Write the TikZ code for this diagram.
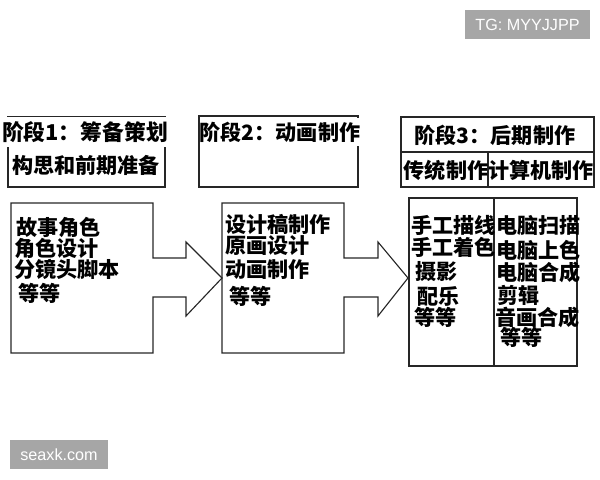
\documentclass[tikz,border=0pt]{standalone}
\usepackage{fontspec}
\setsansfont{Liberation Sans}
\newfontfamily\cjk{Noto Sans CJK SC}
\usetikzlibrary{positioning}

\tikzset{
  line/.style={draw=black!85, line width=0.8pt},
  head/.style={font=\cjk\bfseries\fontsize{15}{17}\selectfont, inner xsep=0pt, inner ysep=3pt},
  item/.style={font=\cjk\bfseries\fontsize{15}{17}\selectfont, inner sep=0pt, anchor=west},
  wbox/.style={fill=black!35, text=white, font=\sffamily\fontsize{11.5}{13}\selectfont, minimum height=0.72cm, inner sep=0pt}
}

\begin{document}
\begin{tikzpicture}[x=0.025cm, y=-0.025cm]
\useasboundingbox (0,0) rectangle (600,480);

% stage headers
\draw[line] (8,117) rectangle (165,187);
\node[head, fill=white, font=\cjk\bfseries\fontsize{15.5}{17}\selectfont] (H1) at (85,132) {阶段1：筹备策划};
\node[head] (P1) at (86,165) {构思和前期准备};

\draw[line] (199,116) rectangle (358,187);
\node[head, fill=white] (H2) at (280,132) {阶段2：动画制作};

\draw[line] (401,117) rectangle (594,187);
\draw[line] (401,152) -- (594,152);
\draw[line] (488,152) -- (488,187);
\node[head] (H3) at (495,135) {阶段3：后期制作};
\node[head] (T3) at (446,170) {传统制作};
\node[head] (C3) at (541,170) {计算机制作};

% work boxes with arrows
\draw[line] (11,203) -- (153,203) -- (153,258) -- (186,258) -- (186,242) -- (222,278)
  -- (186,316) -- (186,297) -- (153,297) -- (153,353) -- (11,353) -- cycle;
\draw[line] (222,203) -- (344,203) -- (344,258) -- (378,258) -- (378,242) -- (408,278)
  -- (378,316) -- (378,297) -- (344,297) -- (344,353) -- (222,353) -- cycle;
\draw[line] (409,198) rectangle (577,366);
\draw[line] (494,198) -- (494,366);

% stage 1 tasks
\node[item] (A1) at (16,227) {故事角色};
\node[item] (A2) at (14,248) {角色设计};
\node[item] (A3) at (14,269) {分镜头脚本};
\node[item] (A4) at (18,293) {等等};

% stage 2 tasks
\node[item] (B1) at (225,224) {设计稿制作};
\node[item] (B2) at (225,246) {原画设计};
\node[item] (B3) at (225,270) {动画制作};
\node[item] (B4) at (229,296) {等等};

% stage 3 tasks
\node[item] (L1) at (411,225) {手工描线};
\node[item] (L2) at (411,247) {手工着色};
\node[item] (L3) at (415,272) {摄影};
\node[item] (L4) at (417,296) {配乐};
\node[item] (L5) at (414,317) {等等};

\node[item] (R1) at (496,225) {电脑扫描};
\node[item] (R2) at (496,250) {电脑上色};
\node[item] (R3) at (496,272) {电脑合成};
\node[item] (R4) at (497,295) {剪辑};
\node[item] (R5) at (495,317) {音画合成};
\node[item] (R6) at (500,337) {等等};

% labels in grey boxes
\node[wbox, minimum width=3.12cm] (W1) at (527.5,24.5) {TG: MYYJJPP};
\node[wbox, minimum width=2.45cm] (W2) at (59,454.5) {seaxk.com};
\end{tikzpicture}
\end{document}
